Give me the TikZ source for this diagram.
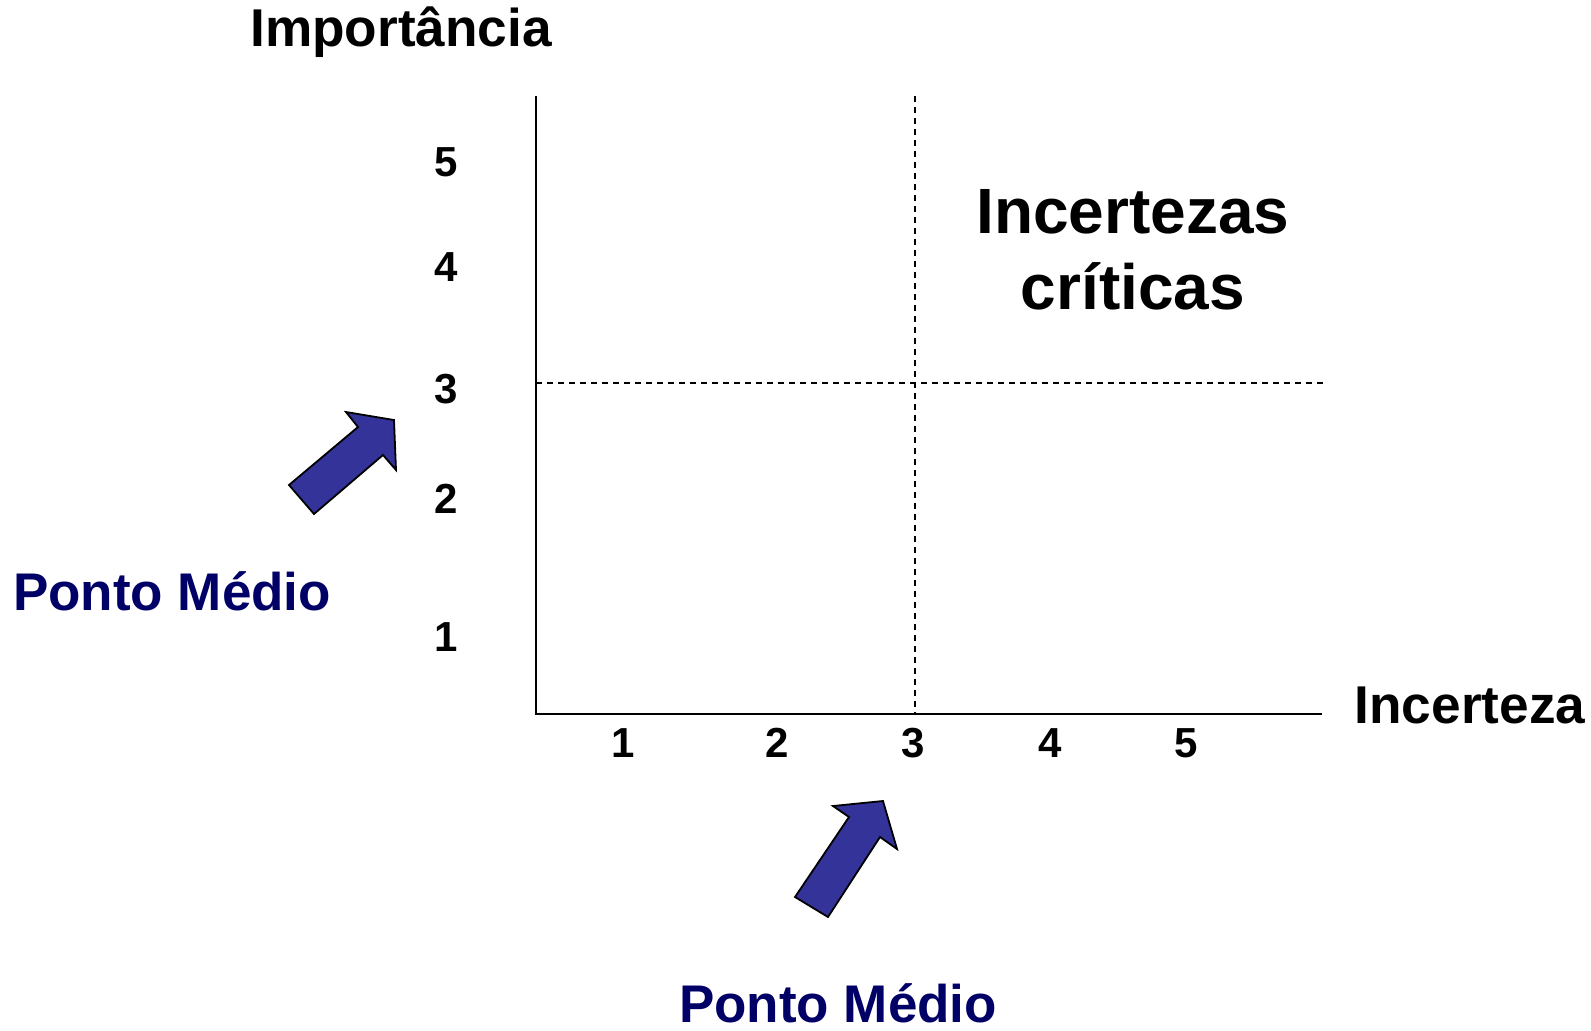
\documentclass[tikz,border=0pt]{standalone}
\usepackage{fontspec}
\setmainfont{Liberation Sans}
\usetikzlibrary{calc}
\definecolor{navy}{HTML}{000066}
\definecolor{arrowblue}{HTML}{333399}

\begin{document}
\begin{tikzpicture}[x=0.5pt,y=-0.5pt,
  axis/.style={draw=black,line width=1pt},
  guide/.style={draw=black,line width=0.7pt,dash pattern=on 3pt off 2.5pt},
  tick/.style={font=\bfseries\fontsize{21}{25}\selectfont,text=black,inner sep=0pt},
  axlabel/.style={font=\bfseries\fontsize{26.6}{31}\selectfont,text=black,inner sep=0pt},
  zone/.style={font=\bfseries\fontsize{32}{38}\selectfont,text=black,align=center,inner sep=0pt},
  midlabel/.style={font=\bfseries\fontsize{26.5}{32}\selectfont,text=navy,inner sep=0pt},
  blockarrow/.style={draw=black,fill=arrowblue,line width=0.9pt,line join=miter},
]
\useasboundingbox (0,0) rectangle (1591,1030);

% Axes
\coordinate (origin) at (536,714);
\coordinate (ytop) at (536,96);
\coordinate (xend) at (1322,714);
\draw[axis] (ytop) -- (origin) -- (xend);
\node[axlabel,anchor=base] (imp) at (401,46) {Importância};
\node[axlabel,anchor=base] (inc) at (1470,723) {Incerteza};

% Tick labels
\foreach \v/\y in {1/637,2/499,3/389,4/267,5/162}
  \node[tick] (y\v) at (446,\y) {\v};
\foreach \v/\x in {1/623,2/777,3/913,4/1050,5/1186}
  \node[tick] (x\v) at (\x,743) {\v};

% Midpoint guides
\coordinate (vtop) at (915,96);
\coordinate (vbot) at (915,714);
\coordinate (hleft) at (536,383);
\coordinate (hright) at (1325,383);
\draw[guide] (vtop) -- (vbot);
\draw[guide] (hleft) -- (hright);

\node[zone,anchor=north] (crit) at (1133,189) {Incertezas\\críticas};

% Ponto medio arrows
\draw[blockarrow] (289,485) -- (358,427) -- (346,412) -- (394,420)
  -- (396,470) -- (383,455) -- (314,514) -- cycle;
\node[midlabel,anchor=base] (pmy) at (172,610) {Ponto Médio};

\draw[blockarrow] (795,897) -- (849,817) -- (833,806) -- (883,801)
  -- (897,849) -- (880,837) -- (828,917) -- cycle;
\node[midlabel,anchor=base] (pmx) at (838,1022) {Ponto Médio};

\end{tikzpicture}
\end{document}
